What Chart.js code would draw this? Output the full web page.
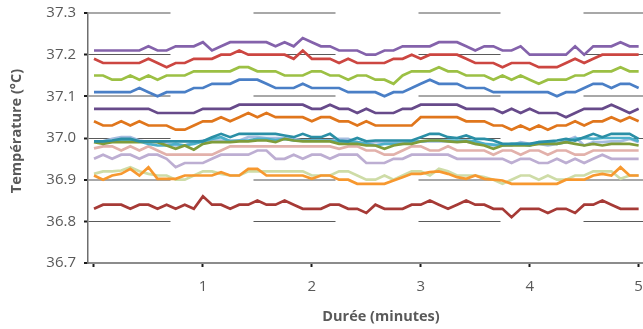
<!DOCTYPE html>
<html>
<head>
<meta charset="utf-8">
<script src="https://cdn.jsdelivr.net/npm/chart.js@4"></script>
<style>
  html, body { margin: 0; padding: 0; background: #fff; }
  canvas { display: block; }
</style>
</head>
<body>
<canvas id="chart" width="643" height="329"></canvas>
<script>
// time of each reading, in seconds (plotted in minutes)
const seconds = [0, 5, 10, 15, 20, 25, 30, 35, 40, 45, 50, 55, 60, 65, 70, 75, 80, 85, 90, 95,
  100, 105, 110, 115, 120, 125, 130, 135, 140, 145, 150, 155, 160, 165, 170, 175, 180, 185, 190, 195,
  200, 205, 210, 215, 220, 225, 230, 235, 240, 245, 250, 255, 260, 265, 270, 275, 280, 285, 290, 295, 300];

const xTicks = [0, 1, 2, 3, 4, 5];
const yTicks = [36.7, 36.8, 36.9, 37.0, 37.1, 37.2, 37.3];
const xTitle = 'Durée (minutes)';
const yTitle = 'Température (°C)';

// one array per sensor, top to bottom
const s1 = [37.21, 37.21, 37.21, 37.21, 37.21, 37.21, 37.22, 37.21, 37.21, 37.22, 37.22, 37.22, 37.23, 37.21, 37.22, 37.23, 37.23, 37.23, 37.23, 37.23,
  37.22, 37.23, 37.22, 37.24, 37.23, 37.22, 37.22, 37.21, 37.21, 37.21, 37.20, 37.20, 37.21, 37.21, 37.22, 37.22, 37.22, 37.22, 37.23, 37.23,
  37.23, 37.22, 37.21, 37.22, 37.22, 37.21, 37.21, 37.22, 37.20, 37.20, 37.20, 37.20, 37.20, 37.22, 37.20, 37.22, 37.22, 37.22, 37.23, 37.22, 37.22];
const s2 = [37.19, 37.18, 37.18, 37.18, 37.18, 37.18, 37.19, 37.18, 37.17, 37.18, 37.18, 37.19, 37.19, 37.19, 37.20, 37.20, 37.21, 37.20, 37.20, 37.20,
  37.20, 37.20, 37.19, 37.21, 37.19, 37.19, 37.19, 37.18, 37.19, 37.18, 37.18, 37.18, 37.18, 37.19, 37.19, 37.20, 37.19, 37.20, 37.20, 37.20,
  37.20, 37.19, 37.18, 37.18, 37.18, 37.17, 37.18, 37.18, 37.18, 37.17, 37.17, 37.17, 37.18, 37.19, 37.18, 37.19, 37.20, 37.20, 37.20, 37.20, 37.20];
const s3 = [37.15, 37.15, 37.14, 37.14, 37.15, 37.14, 37.15, 37.14, 37.15, 37.15, 37.15, 37.16, 37.16, 37.16, 37.16, 37.16, 37.17, 37.17, 37.16, 37.16,
  37.16, 37.15, 37.15, 37.15, 37.16, 37.16, 37.15, 37.15, 37.14, 37.15, 37.15, 37.14, 37.14, 37.13, 37.15, 37.16, 37.16, 37.16, 37.17, 37.16,
  37.16, 37.15, 37.15, 37.15, 37.14, 37.15, 37.14, 37.15, 37.14, 37.13, 37.14, 37.14, 37.14, 37.15, 37.15, 37.16, 37.16, 37.16, 37.17, 37.16, 37.16];
const s4 = [37.11, 37.11, 37.11, 37.11, 37.11, 37.12, 37.11, 37.10, 37.11, 37.11, 37.11, 37.12, 37.12, 37.13, 37.13, 37.13, 37.14, 37.14, 37.14, 37.13,
  37.12, 37.12, 37.12, 37.13, 37.12, 37.12, 37.12, 37.12, 37.11, 37.11, 37.11, 37.11, 37.10, 37.11, 37.11, 37.12, 37.13, 37.14, 37.13, 37.13,
  37.13, 37.12, 37.12, 37.12, 37.11, 37.11, 37.11, 37.11, 37.11, 37.11, 37.11, 37.10, 37.11, 37.11, 37.12, 37.13, 37.13, 37.12, 37.13, 37.13, 37.12];
const s5 = [37.07, 37.07, 37.07, 37.07, 37.07, 37.07, 37.07, 37.06, 37.06, 37.06, 37.06, 37.06, 37.07, 37.07, 37.07, 37.07, 37.08, 37.08, 37.08, 37.08,
  37.08, 37.08, 37.08, 37.08, 37.07, 37.07, 37.08, 37.07, 37.07, 37.06, 37.07, 37.06, 37.06, 37.06, 37.07, 37.07, 37.08, 37.08, 37.08, 37.08,
  37.08, 37.07, 37.07, 37.07, 37.07, 37.06, 37.07, 37.06, 37.07, 37.06, 37.06, 37.06, 37.05, 37.06, 37.07, 37.07, 37.07, 37.08, 37.07, 37.06, 37.07];
const s6 = [37.04, 37.03, 37.03, 37.04, 37.03, 37.04, 37.03, 37.03, 37.03, 37.02, 37.02, 37.03, 37.04, 37.04, 37.05, 37.04, 37.05, 37.06, 37.05, 37.06,
  37.05, 37.05, 37.05, 37.05, 37.04, 37.05, 37.05, 37.04, 37.04, 37.03, 37.04, 37.03, 37.03, 37.03, 37.03, 37.03, 37.05, 37.05, 37.05, 37.05,
  37.05, 37.04, 37.04, 37.04, 37.03, 37.03, 37.02, 37.03, 37.02, 37.03, 37.02, 37.03, 37.03, 37.04, 37.03, 37.04, 37.04, 37.05, 37.04, 37.05, 37.04];
const s7 = [36.992, 36.992, 36.994, 36.998, 36.998, 36.992, 36.992, 36.992, 36.992, 36.992, 36.992, 36.992, 36.992, 37.002, 37.01, 37.002, 37.01, 37.01, 37.01, 37.01,
  37.01, 37.006, 37.002, 37.01, 37.002, 37.002, 37.01, 36.994, 36.992, 37.0, 36.992, 36.994, 36.994, 36.994, 36.994, 36.994, 37.002, 37.01, 37.01, 37.002,
  37.0, 37.006, 36.998, 36.998, 36.994, 36.986, 36.986, 36.986, 36.986, 36.99, 36.992, 36.994, 36.998, 36.994, 37.002, 37.01, 37.002, 37.01, 37.01, 37.01, 36.998];
const s8 = [36.99, 36.986, 36.99, 36.99, 36.99, 36.99, 36.992, 36.99, 36.982, 36.974, 36.982, 36.972, 36.986, 36.99, 36.99, 36.99, 36.992, 36.992, 36.994, 36.994,
  36.99, 36.998, 36.994, 36.992, 36.992, 36.992, 36.992, 36.986, 36.986, 36.986, 36.982, 36.982, 36.974, 36.982, 36.986, 36.986, 36.992, 36.994, 36.994, 36.992,
  36.99, 36.992, 36.986, 36.982, 36.974, 36.982, 36.982, 36.982, 36.982, 36.986, 36.986, 36.986, 36.99, 36.986, 36.982, 36.986, 36.982, 36.986, 36.986, 36.986, 36.982];
const s9 = [36.992, 36.992, 36.992, 36.994, 36.992, 36.992, 36.986, 36.982, 36.982, 36.986, 36.982, 36.986, 36.992, 36.998, 37.002, 36.992, 36.994, 36.994, 36.998, 36.998,
  36.995, 36.998, 36.994, 36.994, 36.994, 36.994, 36.994, 36.99, 36.992, 36.99, 36.986, 36.982, 36.986, 36.986, 36.986, 36.99, 36.992, 36.994, 36.994, 36.994,
  36.994, 36.994, 36.992, 36.986, 36.984, 36.982, 36.986, 36.986, 36.982, 36.99, 36.99, 36.986, 36.99, 36.998, 37.0, 36.998, 37.0, 37.0, 37.0, 37.0, 36.992];
const s10 = [36.992, 36.992, 36.998, 37.002, 37.002, 36.994, 36.99, 36.99, 36.986, 36.982, 36.982, 36.99, 36.994, 36.994, 36.994, 36.994, 36.994, 37.002, 37.002, 37.0,
  37.0, 37.0, 36.998, 36.994, 36.994, 36.994, 36.994, 36.998, 36.998, 36.99, 36.986, 36.99, 36.99, 36.99, 36.992, 36.992, 36.992, 36.992, 36.992, 36.992,
  36.992, 36.992, 36.986, 36.986, 36.982, 36.982, 36.982, 36.99, 36.986, 36.986, 36.982, 36.986, 36.994, 37.002, 36.982, 36.99, 36.99, 36.992, 36.992, 36.998, 36.99];
const s11 = [36.975, 36.98, 36.98, 36.97, 36.98, 36.97, 36.98, 36.97, 36.96, 36.96, 36.96, 36.96, 36.96, 36.96, 36.97, 36.98, 36.98, 36.98, 36.98, 36.98,
  36.98, 36.98, 36.98, 36.98, 36.98, 36.98, 36.98, 36.974, 36.98, 36.98, 36.97, 36.97, 36.96, 36.96, 36.97, 36.98, 36.98, 36.97, 36.97, 36.98,
  36.97, 36.97, 36.97, 36.97, 36.96, 36.97, 36.97, 36.96, 36.97, 36.97, 36.96, 36.97, 36.97, 36.96, 36.96, 36.97, 36.97, 36.97, 36.97, 36.97, 36.97];
const s12 = [36.95, 36.96, 36.95, 36.96, 36.96, 36.95, 36.96, 36.96, 36.95, 36.93, 36.94, 36.94, 36.94, 36.95, 36.96, 36.96, 36.96, 36.96, 36.97, 36.97,
  36.95, 36.95, 36.96, 36.95, 36.96, 36.96, 36.95, 36.96, 36.96, 36.96, 36.94, 36.94, 36.94, 36.95, 36.95, 36.96, 36.96, 36.96, 36.96, 36.96,
  36.95, 36.95, 36.95, 36.95, 36.95, 36.95, 36.94, 36.95, 36.95, 36.94, 36.94, 36.95, 36.94, 36.95, 36.94, 36.95, 36.96, 36.95, 36.95, 36.95, 36.95];
const s13 = [36.91, 36.90, 36.91, 36.914, 36.926, 36.91, 36.93, 36.902, 36.902, 36.902, 36.91, 36.91, 36.91, 36.91, 36.918, 36.91, 36.91, 36.926, 36.926, 36.91,
  36.91, 36.91, 36.91, 36.91, 36.902, 36.91, 36.91, 36.90, 36.90, 36.89, 36.89, 36.89, 36.89, 36.898, 36.906, 36.914, 36.914, 36.918, 36.92, 36.914,
  36.906, 36.902, 36.91, 36.902, 36.90, 36.898, 36.89, 36.89, 36.89, 36.89, 36.89, 36.89, 36.90, 36.90, 36.90, 36.91, 36.914, 36.91, 36.93, 36.91, 36.91];
const s14 = [36.914, 36.92, 36.92, 36.922, 36.93, 36.92, 36.914, 36.91, 36.91, 36.90, 36.90, 36.91, 36.92, 36.92, 36.914, 36.91, 36.91, 36.92, 36.92, 36.92,
  36.92, 36.92, 36.92, 36.92, 36.91, 36.91, 36.91, 36.92, 36.92, 36.91, 36.90, 36.90, 36.91, 36.90, 36.91, 36.92, 36.92, 36.91, 36.926, 36.92,
  36.91, 36.91, 36.91, 36.906, 36.90, 36.89, 36.90, 36.91, 36.91, 36.90, 36.91, 36.90, 36.90, 36.91, 36.91, 36.92, 36.92, 36.92, 36.902, 36.91, 36.91];
const s15 = [36.83, 36.84, 36.84, 36.84, 36.83, 36.84, 36.84, 36.83, 36.84, 36.83, 36.84, 36.83, 36.86, 36.84, 36.84, 36.83, 36.84, 36.84, 36.85, 36.84,
  36.84, 36.85, 36.84, 36.83, 36.83, 36.83, 36.84, 36.84, 36.83, 36.83, 36.82, 36.84, 36.83, 36.83, 36.83, 36.84, 36.84, 36.85, 36.84, 36.83,
  36.84, 36.85, 36.84, 36.84, 36.83, 36.83, 36.81, 36.83, 36.83, 36.83, 36.82, 36.83, 36.83, 36.82, 36.84, 36.84, 36.85, 36.84, 36.83, 36.83, 36.83];

const series = [s1, s2, s3, s4, s5, s6, s7, s8, s9, s10, s11, s12, s13, s14, s15];
const colors = ['#8462ab', '#cc4641', '#9cc044', '#4a7fc6', '#674a8a', '#e0761c', '#2a8fa6', '#7f9c3a',
  '#4cb0cb', '#a6bde0', '#e2b1ab', '#bdaed2', '#f7982f', '#cedca7', '#a63a36'];

const textGrey = '#595959';

// axis titles drawn a bit off-centre, like the original
const axisTitles = {
    id: 'axisTitles',
    afterDraw(chart) {
        const ctx = chart.ctx;
        ctx.save();
        ctx.font = 'bold 14.5px "Open Sans"';
        ctx.fillStyle = textGrey;
        ctx.textAlign = 'center';
        ctx.textBaseline = 'middle';
        ctx.fillText(xTitle, 381, 317);
        ctx.translate(17, 131);
        ctx.rotate(-Math.PI / 2);
        ctx.fillText(yTitle, 0, 0);
        ctx.restore();
    }
};

const datasets = series.map((vals, i) => ({
    data: vals.map((v, j) => ({ x: seconds[j] / 60, y: v })),
    borderColor: colors[i],
    borderWidth: 2.7,
    pointRadius: 0,
    tension: 0,
    fill: false
}));

new Chart(document.getElementById('chart'), {
    type: 'line',
    data: { datasets },
    plugins: [axisTitles],
    options: {
        responsive: false,
        animation: false,
        layout: { padding: { top: 13, right: 0, left: 0, bottom: 0 } },
        plugins: { legend: { display: false }, tooltip: { enabled: false } },
        scales: {
            x: {
                type: 'linear',
                min: -0.055,
                max: 5.04,
                afterBuildTicks: s => { s.ticks = xTicks.map(v => ({ value: v })); },
                afterFit: s => {
                    s.height = 66;
                    // no extra room for the last label, the plot runs to the edge
                    s.paddingLeft = 0;
                    s.paddingRight = 0;
                },
                ticks: {
                    callback: v => (v === 0 ? '' : String(v)),
                    color: textGrey,
                    font: { family: 'Open Sans', size: 15 },
                    padding: 11,
                    maxRotation: 0
                },
                grid: { drawOnChartArea: false, tickLength: 4, tickWidth: 2, tickColor: '#1a1a1a' },
                border: { color: '#8c8c8c', width: 2 }
            },
            y: {
                min: 36.7,
                max: 37.3,
                afterBuildTicks: s => { s.ticks = yTicks.map(v => ({ value: v })); },
                afterFit: s => {
                    s.width = 88;
                    s.paddingTop = 0;
                    s.paddingBottom = 0;
                },
                ticks: {
                    callback: v => v.toFixed(1),
                    color: textGrey,
                    font: { family: 'Open Sans', size: 15 },
                    padding: 8
                },
                grid: {
                    color: c => (c.index % 2 ? '#5a5a5a' : '#a8a8a8'),
                    lineWidth: c => (c.index % 2 ? 1 : 2),
                    tickLength: 4,
                    tickWidth: 2,
                    tickColor: '#1a1a1a'
                },
                border: { color: '#6e6e6e', width: 1.5, dash: [82, 83] }
            }
        }
    }
});
</script>
</body>
</html>
